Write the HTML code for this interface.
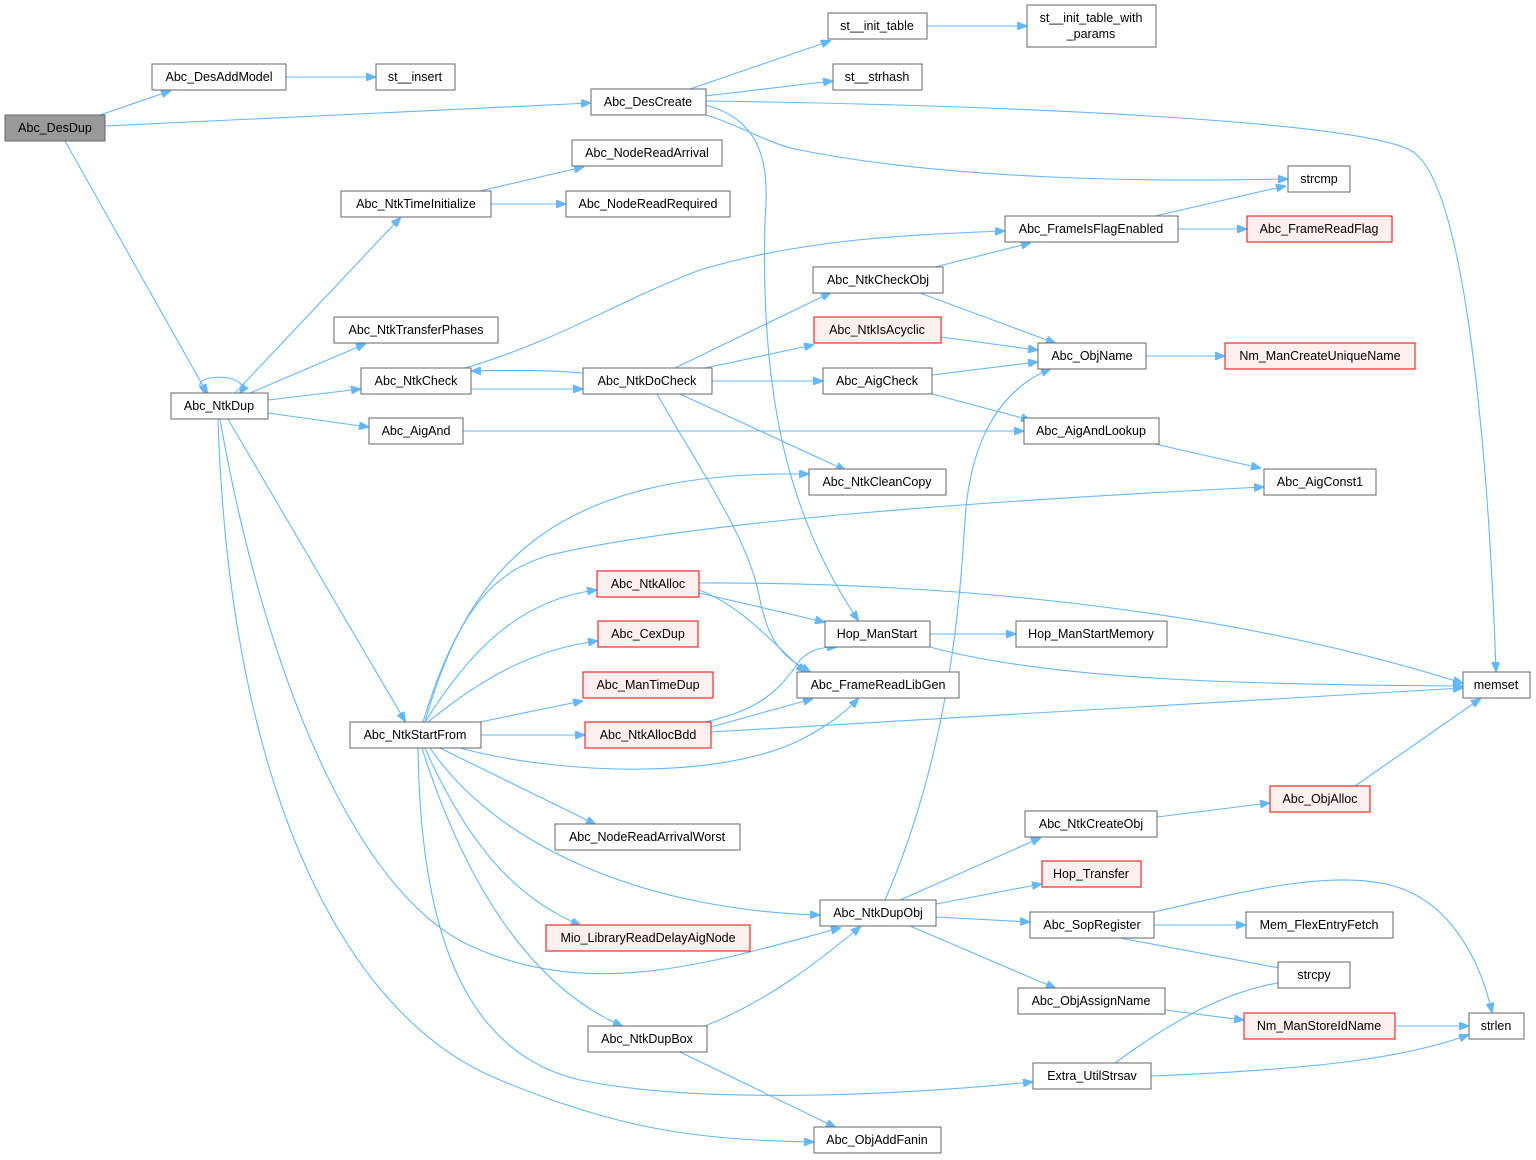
<!DOCTYPE html>
<html><head><meta charset="utf-8"><style>
html,body{margin:0;padding:0;background:#fff;}
svg{display:block;}
text{font-family:"Liberation Sans",Arial,sans-serif;font-size:12.5px;fill:#000;text-anchor:middle;}
.n{fill:#fff;stroke:#666;stroke-width:1;}
.r{fill:#fff0f0;stroke:#f00;stroke-width:1;}
.g{fill:#999;stroke:#666;stroke-width:1;}
path{fill:none;stroke:#63b8ff;stroke-width:1.1;marker-end:url(#a);}
</style></head><body>
<svg width="1536" height="1160" viewBox="0 0 1536 1160" xmlns="http://www.w3.org/2000/svg">
<defs><marker id="a" markerWidth="10" markerHeight="8" refX="9" refY="4" orient="auto" markerUnits="userSpaceOnUse"><path d="M0,0 L10,4 L0,8 Z" style="fill:#63b8ff;stroke:#63b8ff;marker-end:none"/></marker></defs>
<g>
<path d="M100,115 L170,91"/>
<path d="M105,126 L590,103"/>
<path d="M65,141 L207,393"/>
<path d="M286,77 L375,77"/>
<path d="M690,89 L830,41"/>
<path d="M705,96 L832,81"/>
<path d="M706,101 C1000,105 1350,120 1410,150 C1470,180 1490,500 1496,671"/>
<path d="M706,115 C740,125 770,145 800,150 C950,180 1150,182 1287,179"/>
<path d="M706,105 C760,120 770,160 765,220 C760,400 790,520 858,620"/>
<path d="M927,26 L1026,26"/>
<path d="M205,393 C180,372 255,372 240,393"/>
<path d="M235,393 L400,218"/>
<path d="M480,191 L583,167"/>
<path d="M491,204 L565,204"/>
<path d="M250,393 L365,344"/>
<path d="M268,400 L360,389"/>
<path d="M268,413 L368,427"/>
<path d="M228,419 L405,721"/>
<path d="M220,419 C260,650 350,900 480,950 C600,1000 720,960 840,928"/>
<path d="M218,419 C230,800 350,1020 500,1080 C620,1130 700,1140 813,1142"/>
<path d="M465,368 C560,340 620,300 700,270 C800,240 900,235 1004,231"/>
<path d="M471,389 L582,389"/>
<path d="M583,373 C550,370 510,370 472,371"/>
<path d="M675,368 L830,293"/>
<path d="M705,368 L813,345"/>
<path d="M712,381 L822,381"/>
<path d="M680,394 L845,470"/>
<path d="M657,394 C700,470 750,540 760,600 C770,650 790,660 810,672"/>
<path d="M935,267 L1030,243"/>
<path d="M920,293 L1055,343"/>
<path d="M1155,216 L1285,186"/>
<path d="M1178,229 L1246,229"/>
<path d="M941,337 L1037,350"/>
<path d="M932,375 L1037,362"/>
<path d="M932,394 L1030,420"/>
<path d="M1146,356 L1224,356"/>
<path d="M463,431 L1023,431"/>
<path d="M1155,444 L1260,468"/>
<path d="M425,722 C470,560 560,470 808,474"/>
<path d="M423,722 C460,600 500,570 550,555 C700,520 1000,500 1263,487"/>
<path d="M425,722 C470,650 520,600 596,590"/>
<path d="M428,722 C480,680 530,650 597,641"/>
<path d="M480,722 L582,701"/>
<path d="M481,735 L584,735"/>
<path d="M460,748 C560,775 720,780 800,740 C830,725 845,712 858,699"/>
<path d="M440,748 L595,824"/>
<path d="M430,748 C500,850 650,910 819,915"/>
<path d="M425,748 C470,850 520,900 580,925"/>
<path d="M422,748 C470,900 540,990 622,1026"/>
<path d="M418,748 C420,900 450,1050 580,1080 C700,1105 900,1095 1032,1082"/>
<path d="M699,583 C900,582 1200,600 1462,683"/>
<path d="M699,593 L824,622"/>
<path d="M699,590 C740,605 770,640 805,672"/>
<path d="M930,634 L1015,634"/>
<path d="M930,647 C1050,680 1250,685 1462,686"/>
<path d="M705,722 C760,710 780,690 800,660 C810,650 820,647 836,647"/>
<path d="M711,727 L812,699"/>
<path d="M711,732 L1462,688"/>
<path d="M1355,786 L1480,699"/>
<path d="M1157,817 L1269,803"/>
<path d="M900,900 L1040,838"/>
<path d="M936,904 L1041,884"/>
<path d="M936,917 L1029,922"/>
<path d="M910,926 L1055,988"/>
<path d="M885,900 C950,750 960,600 965,520 C970,440 1000,390 1050,369"/>
<path d="M1154,925 L1245,925"/>
<path d="M1120,938 L1290,970"/>
<path d="M1154,912 C1250,890 1330,870 1390,885 C1450,900 1480,960 1492,1012"/>
<path d="M1165,1010 L1243,1020"/>
<path d="M1395,1026 L1468,1026"/>
<path d="M1115,1063 C1160,1030 1220,990 1290,981"/>
<path d="M1151,1076 C1300,1070 1400,1060 1468,1035"/>
<path d="M705,1026 C770,1000 820,960 860,927"/>
<path d="M680,1052 L835,1127"/>
</g>
<g>
<rect class="g" x="5" y="115" width="100" height="26"/><text x="55" y="132">Abc_DesDup</text>
<rect class="n" x="152" y="64" width="134" height="26"/><text x="219" y="81">Abc_DesAddModel</text>
<rect class="n" x="376" y="64" width="79" height="26"/><text x="415" y="81">st__insert</text>
<rect class="n" x="591" y="89" width="115" height="26"/><text x="648" y="106">Abc_DesCreate</text>
<rect class="n" x="828" y="13" width="99" height="26"/><text x="877" y="30">st__init_table</text>
<rect class="n" x="1027" y="5" width="129" height="42"/><text x="1091" y="22">st__init_table_with</text><text x="1091" y="38">_params</text>
<rect class="n" x="833" y="64" width="89" height="26"/><text x="877" y="81">st__strhash</text>
<rect class="n" x="1288" y="166" width="62" height="26"/><text x="1319" y="183">strcmp</text>
<rect class="n" x="572" y="140" width="150" height="26"/><text x="647" y="157">Abc_NodeReadArrival</text>
<rect class="n" x="341" y="191" width="150" height="26"/><text x="416" y="208">Abc_NtkTimeInitialize</text>
<rect class="n" x="566" y="191" width="164" height="26"/><text x="648" y="208">Abc_NodeReadRequired</text>
<rect class="n" x="1005" y="216" width="173" height="26"/><text x="1091" y="233">Abc_FrameIsFlagEnabled</text>
<rect class="r" x="1247" y="216" width="145" height="26"/><text x="1319" y="233">Abc_FrameReadFlag</text>
<rect class="n" x="813" y="267" width="130" height="26"/><text x="878" y="284">Abc_NtkCheckObj</text>
<rect class="n" x="334" y="317" width="164" height="26"/><text x="416" y="334">Abc_NtkTransferPhases</text>
<rect class="r" x="814" y="317" width="127" height="26"/><text x="877" y="334">Abc_NtkIsAcyclic</text>
<rect class="n" x="1038" y="343" width="108" height="26"/><text x="1092" y="360">Abc_ObjName</text>
<rect class="r" x="1225" y="343" width="190" height="26"/><text x="1320" y="360">Nm_ManCreateUniqueName</text>
<rect class="n" x="361" y="368" width="110" height="26"/><text x="416" y="385">Abc_NtkCheck</text>
<rect class="n" x="583" y="368" width="129" height="26"/><text x="647" y="385">Abc_NtkDoCheck</text>
<rect class="n" x="823" y="368" width="109" height="26"/><text x="877" y="385">Abc_AigCheck</text>
<rect class="n" x="171" y="393" width="97" height="26"/><text x="219" y="410">Abc_NtkDup</text>
<rect class="n" x="369" y="418" width="94" height="26"/><text x="416" y="435">Abc_AigAnd</text>
<rect class="n" x="1024" y="418" width="135" height="26"/><text x="1091" y="435">Abc_AigAndLookup</text>
<rect class="n" x="809" y="469" width="137" height="26"/><text x="877" y="486">Abc_NtkCleanCopy</text>
<rect class="n" x="1264" y="469" width="112" height="26"/><text x="1320" y="486">Abc_AigConst1</text>
<rect class="r" x="597" y="571" width="102" height="26"/><text x="648" y="588">Abc_NtkAlloc</text>
<rect class="n" x="825" y="621" width="105" height="26"/><text x="877" y="638">Hop_ManStart</text>
<rect class="n" x="1016" y="621" width="151" height="26"/><text x="1091" y="638">Hop_ManStartMemory</text>
<rect class="r" x="598" y="621" width="100" height="26"/><text x="648" y="638">Abc_CexDup</text>
<rect class="r" x="583" y="672" width="130" height="26"/><text x="648" y="689">Abc_ManTimeDup</text>
<rect class="n" x="797" y="672" width="162" height="26"/><text x="878" y="689">Abc_FrameReadLibGen</text>
<rect class="n" x="1463" y="672" width="67" height="26"/><text x="1496" y="689">memset</text>
<rect class="n" x="350" y="722" width="131" height="26"/><text x="415" y="739">Abc_NtkStartFrom</text>
<rect class="r" x="585" y="722" width="126" height="26"/><text x="648" y="739">Abc_NtkAllocBdd</text>
<rect class="r" x="1270" y="786" width="100" height="26"/><text x="1320" y="803">Abc_ObjAlloc</text>
<rect class="n" x="1025" y="811" width="132" height="26"/><text x="1091" y="828">Abc_NtkCreateObj</text>
<rect class="n" x="555" y="824" width="185" height="26"/><text x="647" y="841">Abc_NodeReadArrivalWorst</text>
<rect class="r" x="1042" y="861" width="99" height="26"/><text x="1091" y="878">Hop_Transfer</text>
<rect class="n" x="820" y="900" width="116" height="26"/><text x="878" y="917">Abc_NtkDupObj</text>
<rect class="n" x="1030" y="912" width="124" height="26"/><text x="1092" y="929">Abc_SopRegister</text>
<rect class="n" x="1246" y="912" width="147" height="26"/><text x="1319" y="929">Mem_FlexEntryFetch</text>
<rect class="r" x="546" y="925" width="204" height="26"/><text x="648" y="942">Mio_LibraryReadDelayAigNode</text>
<rect class="n" x="1278" y="962" width="72" height="26"/><text x="1314" y="979">strcpy</text>
<rect class="n" x="1018" y="988" width="147" height="26"/><text x="1091" y="1005">Abc_ObjAssignName</text>
<rect class="r" x="1244" y="1013" width="151" height="26"/><text x="1319" y="1030">Nm_ManStoreIdName</text>
<rect class="n" x="1469" y="1013" width="55" height="26"/><text x="1496" y="1030">strlen</text>
<rect class="n" x="588" y="1026" width="119" height="26"/><text x="647" y="1043">Abc_NtkDupBox</text>
<rect class="n" x="1033" y="1063" width="118" height="26"/><text x="1092" y="1080">Extra_UtilStrsav</text>
<rect class="n" x="814" y="1127" width="127" height="26"/><text x="877" y="1144">Abc_ObjAddFanin</text>
</g>
</svg>
</body></html>
